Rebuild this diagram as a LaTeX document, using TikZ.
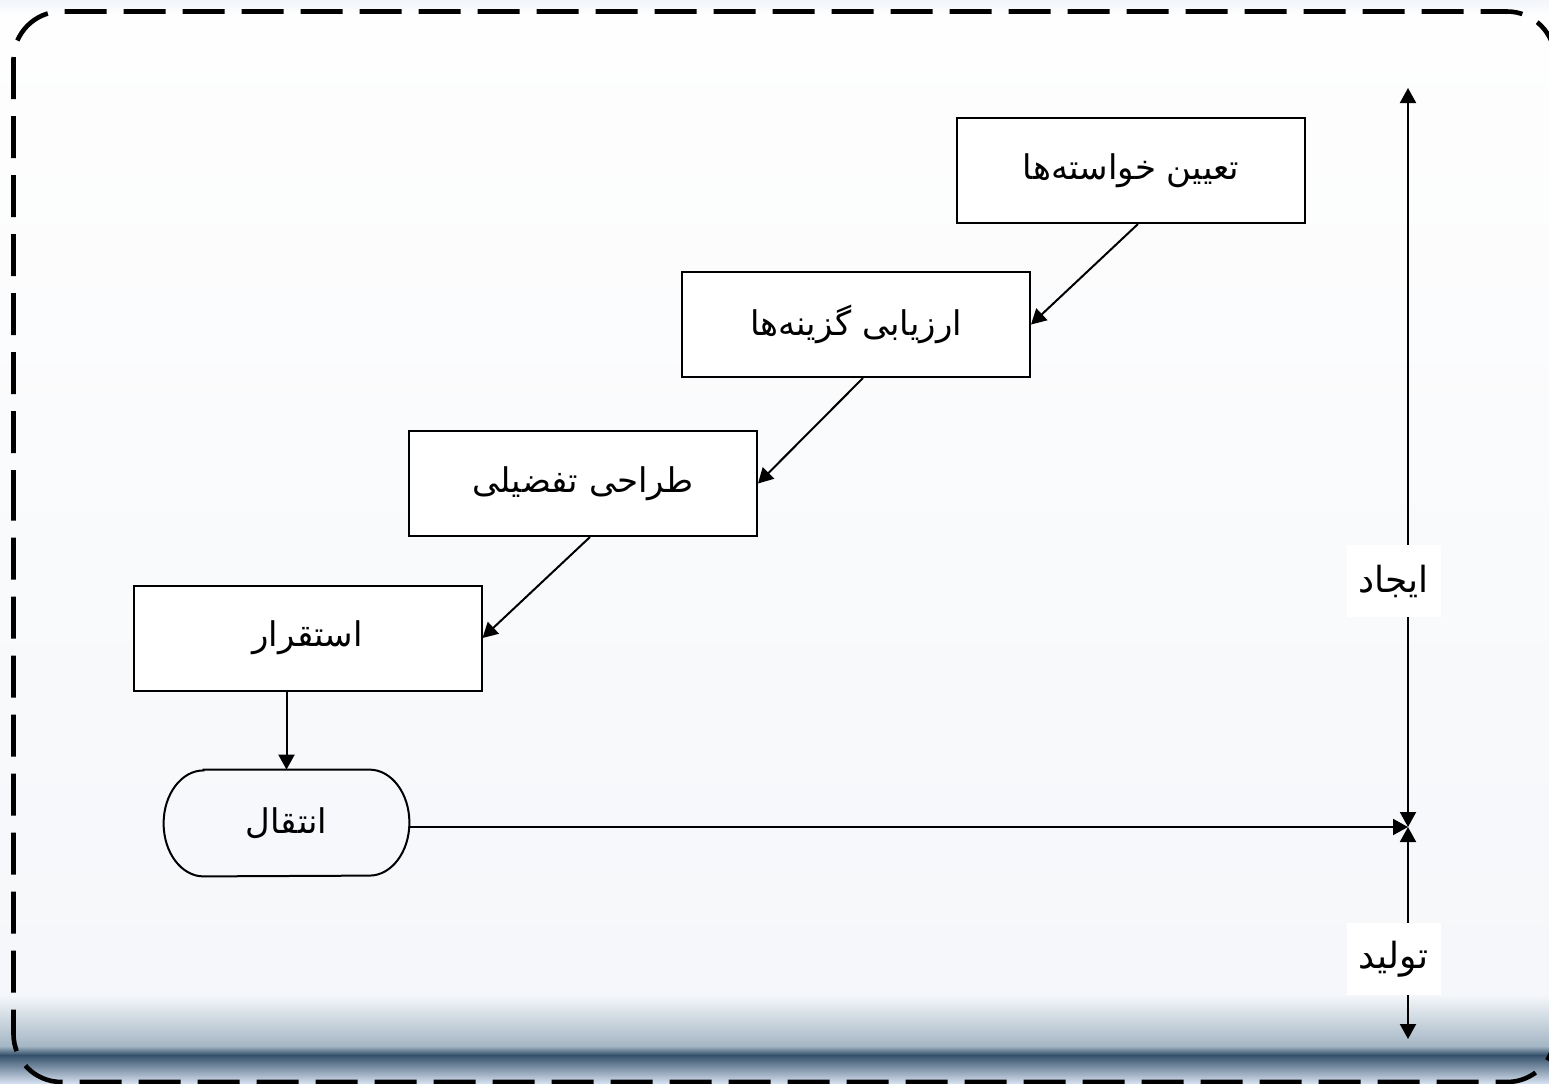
\documentclass[tikz,border=0pt]{standalone}
\usepackage{fontspec}
\usetikzlibrary{arrows.meta}
\TeXXeTstate=1
\newfontfamily\arabicfont[Script=Arabic]{DejaVu Sans}
\definecolor{bgA}{HTML}{F2F5FA}
\definecolor{bgB}{HTML}{FEFEFE}
\definecolor{bgC}{HTML}{F5F7FA}
\definecolor{bgD}{HTML}{A4B6C4}
\definecolor{bgE}{HTML}{34506A}
\definecolor{bgF}{HTML}{D4DFEE}
\begin{document}
\begin{tikzpicture}[x=0.5pt,y=-0.5pt,
  txt/.style={font=\arabicfont\fontsize{17}{20}\selectfont},
  stepbox/.style={txt, draw, line width=1pt, fill=white,
    minimum width=174pt, minimum height=52.5pt, inner sep=0pt},
  termbox/.style={txt, minimum width=122.5pt, minimum height=53pt, inner sep=0pt},
  axislabel/.style={font=\arabicfont\fontsize{18}{21}\selectfont, fill=white,
    minimum width=47pt, minimum height=36pt, inner sep=0pt},
  link/.style={line width=1pt, -{Triangle[length=7.5pt,width=8pt]}},
  both/.style={line width=1pt, {Triangle[length=7.5pt,width=8pt]}-{Triangle[length=7.5pt,width=8pt]}},
  frame/.style={line width=2.3pt, dash pattern=on 21pt off 8.5pt, rounded corners=24pt}]
\useasboundingbox (0,0) rectangle (1549,1083);
% background bands
\shade[top color=bgA, bottom color=bgB] (0,0) rectangle (1549,14);
\shade[top color=bgB, bottom color=bgC] (0,14) rectangle (1549,995);
\shade[top color=bgC, bottom color=bgD] (0,995) rectangle (1549,1046);
\shade[top color=bgD, bottom color=bgE] (0,1046) rectangle (1549,1055);
\shade[top color=bgE, bottom color=bgF] (0,1055) rectangle (1549,1083);
% dashed outer frame
\draw[frame] (13.5,560) -- (13.5,11.5) -- (1555,11.5) -- (1555,1082) -- (13.5,1082) -- cycle;

% process steps
\node[stepbox] (b1) at (1131,170.5) {\beginR تعیین خواسته‌ها\endR};
\node[stepbox] (b2) at (856,324.5) {\beginR ارزیابی گزینه‌ها\endR};
\node[stepbox] (b3) at (583,483.5) {\beginR طراحی تفضیلی\endR};
\node[stepbox] (b4) at (307.5,638) {\beginR استقرار\endR};
\node[termbox] (t) at (286.5,823) {\beginR انتقال\endR};
\draw[line width=1pt]
  ([xshift=20pt]t.north west) -- ([xshift=-20pt]t.north east)
  arc[start angle=90, end angle=-90, x radius=20pt, y radius=26.5pt]
  -- ([xshift=20pt]t.south west)
  arc[start angle=270, end angle=90, x radius=20pt, y radius=26.5pt] -- cycle;

% flow between steps
\draw[link] ([xshift=3.5pt]b1.south) -- (b2.east);
\draw[link] ([xshift=3.5pt]b2.south) -- (b3.east);
\draw[link] ([xshift=3.5pt]b3.south) -- (b4.east);
\draw[link] (b4.south -| t.north) -- (t.north);

% time axis
\coordinate (top) at (1408,88);
\coordinate (m) at (1408,827);
\coordinate (bot) at (1408,1039);
\draw[link] (t.east |- m) -- (m);
\draw[both] (m) -- (top);
\draw[both] (m) -- (bot);
\node[axislabel] (l1) at (1393.5,581) {\beginR ایجاد\endR};
\node[axislabel] (l2) at (1393.5,959) {\beginR تولید\endR};
\end{tikzpicture}
\end{document}
